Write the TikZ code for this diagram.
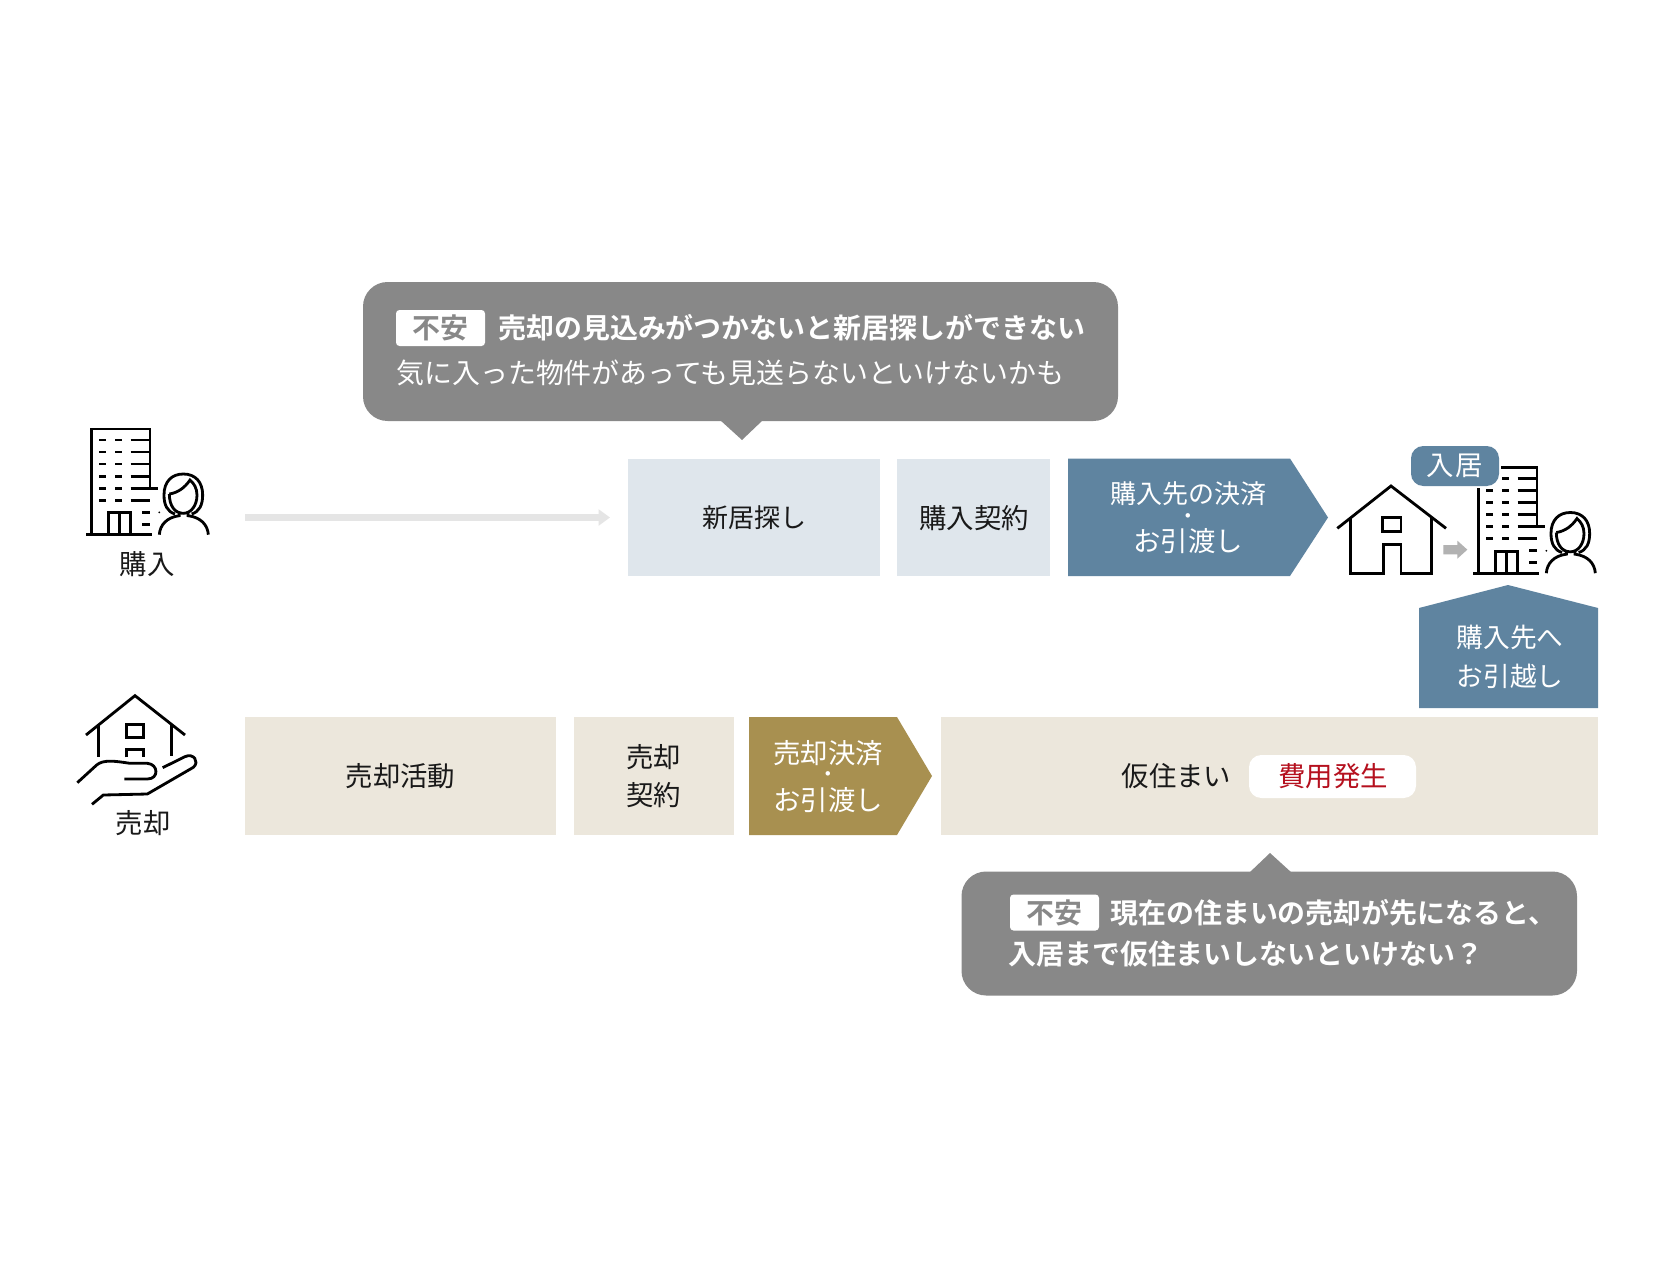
\documentclass[tikz,border=0pt]{standalone}
\usepackage{fontspec}
\setmainfont[BoldFont={Noto Sans CJK JP Bold}]{Noto Sans CJK JP}
\usetikzlibrary{arrows.meta}
\definecolor{calloutgray}{HTML}{888888}
\definecolor{steelblue}{HTML}{5F84A0}
\definecolor{paleblue}{HTML}{DFE6EC}
\definecolor{palesand}{HTML}{ECE7DC}
\definecolor{goldbrown}{HTML}{A89050}
\definecolor{costred}{HTML}{B5101E}
\tikzset{
  caption/.style={font=\fontsize{15.6}{22}\selectfont, text=black!90, inner sep=0pt, align=center},
  lightcaption/.style={caption, text=white},
  smallcaption/.style={font=\fontsize{14.8}{22}\selectfont},
  dotcaption/.style={inner sep=0pt, font=\bfseries\fontsize{10}{10}\selectfont, text=white},
  leftcaption/.style={lightcaption, anchor=west, font=\fontsize{15.9}{22}\selectfont},
  boldcaption/.style={leftcaption, font=\fontsize{15.9}{22}\selectfont\bfseries},
  worrytag/.style={fill=white, rounded corners=2pt},
  worrytext/.style={caption, font=\fontsize{15.9}{22}\selectfont\bfseries, text=calloutgray},
  icon/.style={line width=1.6pt, draw=black, line join=miter},
  flowarrow/.style={draw=black!10, line width=3.6pt, -{Triangle[length=6.5pt, width=9pt]}},
  pics/officeperson/.style={code={
    % Building
    \draw[icon] (94,404) -- (94,87) -- (270,87) -- (270,265);
    \draw[icon] (78,404) -- (275,404);
    \foreach \y in {120,156,192,229,265,301} {
      \draw[icon] (118,\y) -- (138,\y);
      \draw[icon] (165,\y) -- (185,\y);
    }
    \foreach \y in {120,156,192,229,301} {
      \draw[icon] (212,\y) -- (270,\y);
    }
    \draw[icon] (212,265) -- (295,265);
    \draw[icon] (145,404) -- (145,338) -- (212,338) -- (212,404);
    \draw[icon] (178,338) -- (178,404);
    \draw[icon] (247,337) -- (270,337);
    \draw[icon] (247,373) -- (270,373);
    \fill (298,337) circle (3);
    % Person
    \draw[icon] (345,342) .. controls (322,335) and (312,315) .. (312,285)
      .. controls (312,245) and (335,222) .. (370,222)
      .. controls (405,222) and (428,245) .. (428,285)
      .. controls (428,315) and (418,335) .. (395,342);
    \draw[icon] (328,282) .. controls (355,278) and (375,262) .. (390,240)
      .. controls (402,250) and (411,265) .. (411,285)
      .. controls (411,318) and (392,340) .. (370,340)
      .. controls (345,340) and (328,318) .. (328,282);
    \draw[icon] (298,404) .. controls (300,375) and (320,352) .. (358,347)
      -- (358,335);
    \draw[icon] (445,404) .. controls (443,375) and (423,352) .. (384,347)
      -- (384,335);
  }}
}
\begin{document}
\begin{tikzpicture}[x=0.02cm, y=-0.02cm]
  \useasboundingbox[fill=white] (0,0) rectangle (1674,1278);

  % Purchase row
  \pic[scale=1/3] at (60,400) {officeperson};
  \node[caption] (buylabel) at (147,564) {購入};
  \coordinate (flowstart) at (245,517.5);
  \coordinate (flowend) at (610,517.5);
  \draw[flowarrow] (flowstart) -- (flowend);
  \fill[paleblue] (628,458.5) rectangle (880,576);
  \node[caption, smallcaption] (search) at (754,518) {新居探し};
  \fill[paleblue] (897,458.5) rectangle (1050,576);
  \node[caption] (buycontract) at (974,518) {購入契約};
  \fill[steelblue] (1068,458.5) -- (1290,458.5) -- (1328,517.5) -- (1290,576) -- (1068,576) -- cycle;
  \node[lightcaption, smallcaption] (buysettle) at (1188,494) {購入先の決済};
  \node[dotcaption] (buydot) at (1188,518) {・};
  \node[lightcaption] (buyhandover) at (1188,541) {お引渡し};

  % Current house
  \begin{scope}[shift={(1320,430)}, scale=1/3]
    \draw[icon] (52,295) -- (213,168) -- (378,295);
    \draw[icon] (92,262) -- (92,430) -- (190,430) -- (190,343) -- (243,343) -- (243,430) -- (335,430) -- (335,262);
    \draw[icon] (188,262) rectangle (243,305);
    \fill[black!30] (370,345) -- (412,345) -- (412,332) -- (442,359) -- (412,386) -- (412,373) -- (370,373) -- cycle;
  \end{scope}

  % New home
  \pic[scale=1/3] at (1447,438.5) {officeperson};
  \draw[white, line width=2.2pt, rounded corners=7pt] (1411,446) rectangle (1499,486);
  \fill[steelblue, rounded corners=7pt] (1411,446) rectangle (1499,486);
  \node[lightcaption] (movein) at (1455,466) {入\kern1pt 居};
  \fill[steelblue] (1419,708) -- (1419,608) -- (1508,585) -- (1598,608) -- (1598,708) -- cycle;
  \node[lightcaption, smallcaption, font=\fontsize{15.2}{22}\selectfont] (moveto) at (1510,657) {購入先へ\\お引越し};

  % Sale row
  \begin{scope}[shift={(60,680)}, scale=1/3]
    \draw[icon] (78,165) -- (225,47) -- (375,165);
    \draw[icon] (115,135) -- (115,232);
    \draw[icon] (335,135) -- (335,228);
    \draw[icon] (200,133) rectangle (250,173);
    \draw[icon] (200,232) -- (200,208) -- (250,208) -- (250,232);
    \draw[icon] (52,308) -- (110,255) .. controls (130,238) and (165,243) .. (210,250) -- (262,250)
      .. controls (295,252) and (298,297) .. (262,297) -- (193,297);
    \draw[icon] (308,263) -- (375,230) .. controls (400,218) and (420,245) .. (400,262)
      -- (262,342) -- (130,345) -- (96,373);
  \end{scope}
  \node[caption] (selllabel) at (143,823) {売却};
  \fill[palesand] (245,717) rectangle (556,835);
  \node[caption] (sellwork) at (400.5,776) {売却活動};
  \fill[palesand] (573.5,717) rectangle (733.5,835);
  \node[caption] (sellcontract) at (653.5,776) {売却\\契約};
  \fill[goldbrown] (749,717) -- (897,717) -- (932,776) -- (897,835) -- (749,835) -- cycle;
  \node[lightcaption] (sellsettle) at (828,753) {売却決済};
  \node[dotcaption] (selldot) at (828,776) {・};
  \node[lightcaption] (sellhandover) at (828,800) {お引渡し};
  \fill[palesand] (941,717) rectangle (1598,835);
  \node[caption] (temphome) at (1176.5,776) {仮住まい};
  \fill[white, rounded corners=7pt] (1249,755) rectangle (1416,798);
  \node[caption, text=costred] (cost) at (1333,776) {費用発生};

  % Upper callout
  \fill[calloutgray, rounded corners=14pt] (363,282) rectangle (1118,421);
  \fill[calloutgray] (720,420) -- (763,420) -- (742,440) -- cycle;
  \fill[worrytag] (396,310) rectangle (485,346);
  \node[worrytext] (worryup) at (440,328) {不安};
  \node[boldcaption] (worryuphead) at (498,328) {売却の見込みがつかないと新居探しができない};
  \node[leftcaption] (worryupline) at (396,373) {気に入った物件があっても見送らないといけないかも};

  % Lower callout
  \fill[calloutgray, rounded corners=14pt] (961.5,871.5) rectangle (1577,995.5);
  \fill[calloutgray] (1249,873) -- (1292,873) -- (1270,853) -- cycle;
  \fill[worrytag] (1010,894.5) rectangle (1099,930.5);
  \node[worrytext] (worrydown) at (1054,912.5) {不安};
  \node[boldcaption] (worrydownhead) at (1110,913) {現在の住まいの売却が先になると、};
  \node[boldcaption] (worrydownline) at (1008,954) {入居まで仮住まいしないといけない？};
\end{tikzpicture}
\end{document}
